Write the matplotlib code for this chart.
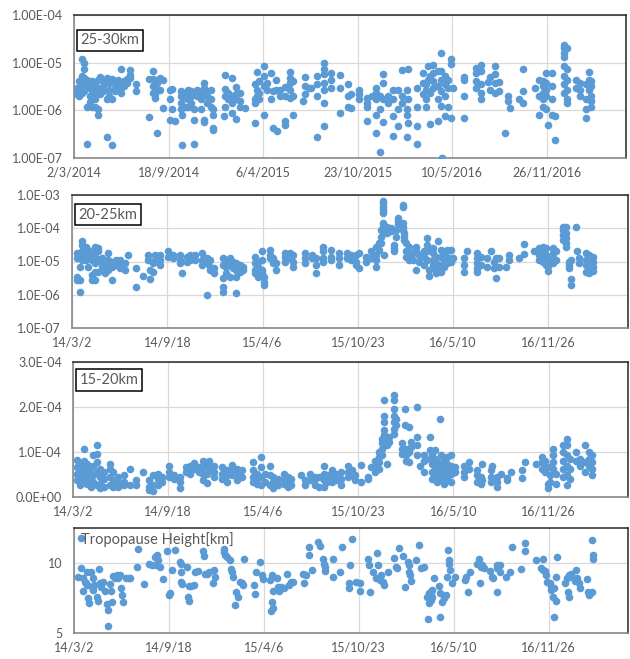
import datetime as dt
import numpy as np
import matplotlib
matplotlib.use("Agg")
import matplotlib.pyplot as plt
import matplotlib.dates as mdates
from matplotlib.ticker import FixedLocator, FuncFormatter, NullLocator

START = dt.date(2014, 3, 2)
X_SPAN_DAYS = 1167

# ---------------- 25-30 km (launch day offset, values) ----------------
days_2530 = [6, 10, 16, 22, 28, 33, 38, 44, 50, 55, 62, 70, 75, 80, 86, 93, 100, 106, 112, 118,
             132, 159, 166, 171, 176, 182, 189, 203, 208, 213, 227, 229, 236, 242, 248, 253, 260,
             268, 275, 282, 290, 294, 317, 319, 326, 334, 342, 350, 361, 382, 386, 392, 402, 408,
             416, 420, 427, 430, 436, 446, 456, 462, 484, 488, 496, 502, 514, 528, 544, 562, 579,
             586, 603, 620, 629, 639, 646, 653, 664, 674, 685, 694, 703, 706, 725, 738, 745, 748,
             753, 760, 769, 776, 779, 784, 791, 797, 801, 824, 850, 861, 875, 879, 891, 898, 912,
             917, 921, 941, 949, 974, 984, 991, 998, 1003, 1011, 1016, 1035, 1042, 1062, 1069,
             1083, 1088, 1093]
vals_2530 = [
    [3e-6, 2.2e-6], [4.2e-6, 2.7e-6, 2e-6], [1.2e-5, 5.2e-6, 4.4e-6, 3.5e-6, 2.3e-6],
    [1e-5, 7.2e-6, 4.8e-6, 3.2e-6, 2.5e-6], [4.4e-6, 3.5e-6, 1.2e-6, 2e-7],
    [3.8e-6, 3e-6, 2e-6, 1.5e-6], [4.2e-6, 2.5e-6, 1.7e-6, 1.2e-6], [3.2e-6, 2.2e-6, 1.7e-6, 1.2e-6],
    [4.4e-6, 2.5e-6, 1.05e-6, 7.8e-7], [5e-6, 3e-6, 2.2e-6], [4.4e-6, 3.2e-6, 2.5e-6],
    [4.8e-6, 4.2e-6, 1.7e-6, 2.7e-7], [3.8e-6, 2.7e-6, 2e-6], [4.6e-6, 1.7e-6, 1.9e-7],
    [3.8e-6, 3e-6, 2.5e-6], [4.4e-6, 3.5e-6, 2.7e-6], [7.2e-6, 3e-6, 2.3e-6], [4.2e-6, 3.2e-6],
    [4.6e-6, 3.8e-6], [7e-6, 5.6e-6, 4.8e-6],
    [3.5e-6, 2.5e-6], [4.6e-6, 7.3e-7], [6.7e-6, 4.6e-6, 3.2e-6, 2.3e-6], [4.4e-6, 2.2e-6, 1.8e-6],
    [3.8e-6, 2.7e-6, 3.3e-7], [4.8e-6, 2.7e-6], [4.4e-6, 1.1e-6], [2.7e-6, 1.7e-6, 6.3e-7],
    [2.8e-6, 1.05e-6], [6.1e-7], [2.5e-6, 2e-6, 1.4e-6, 1.05e-6], [8e-7, 1.9e-7],
    [2.3e-6, 1.8e-6, 1.2e-6], [2.7e-6, 1.7e-6, 1.15e-6], [2.5e-6, 2e-6, 1.4e-6],
    [2.3e-6, 1.05e-6, 6.3e-7, 2e-7], [2.7e-6, 2e-6],
    [2.3e-6, 1.7e-6, 1.05e-6], [3.8e-6, 3e-6, 6.3e-7, 5.8e-7], [2.5e-6, 2e-6, 1.4e-6],
    [2.7e-6, 1.7e-6, 1.2e-6], [1.05e-6, 8e-7, 4.2e-7, 3.8e-7], [7.5e-7],
    [5.4e-6, 2.8e-6, 2e-6, 1.2e-6], [2.3e-6, 1.7e-6], [4.8e-6, 2e-6, 1.4e-6, 8.8e-7],
    [3.1e-6, 2.2e-6, 1.7e-6, 6.6e-7], [2.3e-6, 1.6e-6, 1.2e-6], [1.1e-6],
    [3.5e-6, 1.7e-6, 1.4e-6, 5.5e-7], [6.3e-6, 2.7e-6, 2e-6], [4.2e-6, 2.3e-6, 1.7e-6],
    [8.5e-6, 5.2e-6, 3.2e-6, 8e-7], [3.8e-6, 2.7e-6],
    [6e-6, 1.7e-6], [2.5e-6, 4.2e-7], [4.4e-6, 2.7e-6], [3.6e-7], [2.7e-6, 2e-6],
    [3.1e-6, 2e-6, 6.1e-7, 5e-7], [6.3e-6, 4.8e-6, 3.8e-6, 2.7e-6, 1.8e-6], [4.2e-6, 2e-6, 8e-7],
    [1.6e-6], [5e-6, 3.2e-6, 2.2e-6], [3e-6], [3e-6], [5.2e-6, 3.5e-6, 2e-6, 2.8e-7],
    [1e-5, 7.2e-6, 5.7e-6, 3.8e-6, 2.7e-6, 1.4e-6, 4.7e-7], [6.2e-6, 4.4e-6, 3e-6],
    [5.4e-6, 3e-6, 9e-7], [3.5e-6, 2e-6, 1.2e-6],
    [2.2e-6, 1.1e-6], [2.7e-6, 2.2e-6, 1.7e-6], [1.8e-6, 1.4e-6, 1.2e-6, 5.9e-7], [2e-6],
    [3e-6, 2.3e-6, 1.7e-6, 8e-7, 3.3e-7], [2e-6, 1.05e-6, 1.35e-7], [5.7e-6, 3.8e-6, 1.7e-6, 5.6e-7],
    [2e-6, 1.4e-6], [2.7e-6, 1.7e-6, 7.5e-7, 2.9e-7], [2.7e-6, 1.05e-6, 4.8e-7], [7e-6, 2e-6, 1.4e-6],
    [2.7e-6, 1.05e-6, 8e-7, 2.8e-7], [7.2e-6, 1.7e-6, 5.4e-7], [3e-6, 1.2e-6, 4.6e-7, 2e-7],
    [6e-6, 3.8e-6, 2.2e-6], [3.5e-6, 2.7e-6, 1.7e-6, 1.2e-6], [8.5e-6, 4.4e-6],
    [5.2e-6, 2.3e-6, 5.2e-7], [9e-6, 6.2e-6, 4.2e-6, 3e-6], [6.7e-6, 3.2e-6, 1.7e-6, 5.9e-7],
    [1.6e-5, 6.7e-6, 4.4e-6, 2.5e-6, 1.25e-6], [1.02e-7, 1.02e-7], [5.2e-6, 3.5e-6, 2e-6, 7.5e-7],
    [4.4e-6, 3e-6, 1.2e-6], [1.2e-5, 9.6e-6, 6.8e-7], [3e-6], [5e-6, 4.4e-6, 2e-6, 7e-7],
    [7.8e-6, 6.2e-6, 4.2e-6, 3e-6], [8.8e-6, 6.7e-6, 3.5e-6, 2.3e-6, 1.7e-6], [3.9e-6],
    [5e-6, 2.7e-6], [8.5e-6, 5.7e-6, 3.8e-6, 2.3e-6], [3.9e-6, 2.5e-6], [3.3e-7],
    [2e-6, 1.6e-6], [1.1e-6], [1.7e-6], [7.4e-6, 2.5e-6, 1.4e-6], [3e-6], [4.4e-6, 2e-6, 8e-7],
    [4.2e-6, 3.2e-6, 2.3e-6, 1.7e-6, 1.2e-6], [6e-6, 3.8e-6, 2.7e-6, 2e-6, 1.05e-6], [5e-7],
    [6.2e-6, 3.2e-6, 1.7e-6, 8e-7], [7.5e-7, 2.4e-7],
    [2.4e-5, 2e-5, 1.6e-5, 1.3e-5, 8.5e-6, 5.2e-6, 3.5e-6, 2.3e-6],
    [2e-5, 7.2e-6, 4.4e-6, 2.7e-6, 1.7e-6, 1.4e-6], [4.4e-6, 3e-6], [3.8e-6, 2.7e-6, 2e-6],
    [3.5e-6, 1.7e-6, 1.05e-6, 7e-7], [6.3e-6, 4.4e-6, 2.7e-6], [4.2e-6, 3.2e-6, 2e-6, 1.6e-6, 1.2e-6],
]

# ---------------- 20-25 km ----------------
days_2025 = [10, 17, 22, 29, 34, 41, 48, 55, 62, 69, 76, 83, 92, 101, 111, 118, 134, 148, 159, 164,
             171, 174, 185, 202, 213, 227, 230, 241, 248, 258, 272, 283, 290, 297, 316, 324, 331,
             338, 345, 352, 359, 384, 391, 398, 402, 415, 422, 429, 447, 457, 464, 489, 503, 513,
             526, 543, 561, 578, 585, 596, 603, 618, 627, 638, 645, 648, 652, 655, 662, 669, 676,
             681, 685, 694, 697, 701, 708, 715, 723, 729, 739, 746, 750, 757, 764, 769, 774, 781,
             788, 795, 800, 823, 830, 851, 858, 872, 879, 886, 890, 897, 911, 918, 939, 949, 970,
             981, 988, 995, 1000, 1009, 1015, 1031, 1037, 1044, 1047, 1057, 1060, 1065, 1078, 1086,
             1093]
vals_2025 = [
    [1.8e-5, 1.3e-5, 3.5e-6, 2.8e-6], [7e-6, 2.8e-6, 1.2e-6], [4e-5, 3.2e-5, 2e-5, 1.4e-5, 1.1e-5],
    [2.8e-5, 2e-5, 1.6e-5, 1.1e-5], [2.2e-5, 1.4e-5, 7e-6], [1.8e-5, 1.1e-5, 4e-6, 2.8e-6],
    [2.8e-5, 2.2e-5, 1.4e-5, 8.9e-6, 5e-6, 2.8e-6], [2.5e-5, 2e-5, 1.1e-5, 5e-6],
    [1.3e-5, 8.9e-6, 7e-6], [1e-5, 6.3e-6, 4.5e-6], [1.8e-5, 1.1e-5, 8e-6, 5.6e-6],
    [1e-5, 7e-6, 2.8e-6], [1.1e-5, 8e-6], [1.1e-5, 8.9e-6, 6.3e-6], [8.9e-6, 5.6e-6], [1.6e-5],
    [6.6e-6, 1.7e-6], [3.7e-6], [1.6e-5, 1.1e-5], [5.6e-6, 2.9e-6],
    [8.9e-6, 5e-6], [1.6e-5, 1.1e-5], [1.6e-5, 1.1e-5, 8e-6], [2e-5, 1.4e-5], [1.6e-5, 1.3e-5],
    [1.6e-5, 1.1e-5, 8.9e-6], [4.5e-6], [1.4e-5, 1e-5], [1.6e-5, 1.1e-5], [1.6e-5, 1.1e-5],
    [1.8e-5, 1.1e-5, 8e-6], [1.3e-5, 8.9e-6, 1e-6], [1.1e-5, 7e-6, 5.6e-6], [6.3e-6, 4.5e-6],
    [1.3e-5, 8e-6, 3.2e-6, 1.7e-6, 1.2e-6], [1.1e-5, 7e-6, 4.5e-6], [1.3e-5, 8.9e-6, 3.5e-6],
    [1e-5, 6.3e-6], [8.9e-6, 5.6e-6, 3.5e-6, 1.1e-6], [8e-6, 5e-6], [7e-6, 5.6e-6],
    [1.4e-5, 8.9e-6, 5.6e-6, 4.5e-6], [1e-5, 7e-6, 3.5e-6], [2e-5, 1.1e-5, 5.6e-6, 4.5e-6],
    [3.5e-6, 2.5e-6, 1.9e-6], [2.2e-5, 1.6e-5, 1.3e-5], [1.3e-5, 8.9e-6], [8.9e-6, 5.6e-6],
    [1.8e-5, 1.4e-5, 1e-5], [1.8e-5, 1.3e-5], [1.6e-5, 1e-5, 7e-6], [1.8e-5, 1.3e-5, 8.9e-6],
    [1.6e-5, 1.3e-5], [1.3e-5, 8e-6, 4.5e-6],
    [2.8e-5, 2e-5, 1.3e-5, 1e-5], [2.2e-5, 1.4e-5, 1.1e-5], [1.8e-5, 1.3e-5, 8e-6],
    [1.8e-5, 1.3e-5], [1.6e-5, 1.1e-5], [1.6e-5, 1e-5, 8e-6], [1.8e-5, 6.3e-6], [1.4e-5, 1e-5],
    [2e-5, 1.3e-5], [2.8e-5, 1.6e-5, 1.1e-5, 6.7e-6], [3.5e-5, 2.2e-5], [8.9e-5, 5.6e-5, 3.5e-5],
    [6.8e-4, 5.6e-4, 4.5e-4, 3.5e-4, 2.8e-4, 1.4e-4, 1.1e-4], [8.9e-5, 7e-5, 1.6e-5],
    [1.1e-4, 8.9e-5, 7e-5], [1e-4, 8e-5], [3.2e-5, 2.5e-5, 2e-5],
    [8.9e-5, 5.6e-5], [2e-4, 1.6e-4, 1.3e-4], [5e-4, 4.5e-4, 1.4e-4, 1.1e-4, 8.9e-5],
    [7e-5, 5.6e-5, 4.5e-5], [3.5e-5, 2e-5, 1.4e-5], [2.8e-5, 1.6e-5, 1.1e-5], [1.8e-5, 1.1e-5],
    [2.8e-5, 2e-5, 5.6e-6], [1.6e-5, 1e-5], [2e-5, 1.4e-5, 8e-6], [5e-5, 3.2e-5, 2e-5, 1.1e-5],
    [5.6e-6, 3.7e-6], [2.5e-5, 1.8e-5, 1.1e-5, 8e-6], [1.4e-5, 8.9e-6, 5.6e-6, 4.5e-6], [4e-5],
    [2.2e-5, 1.4e-5, 8e-6, 5e-6], [1.8e-5, 1.1e-5, 7e-6],
    [2.2e-5, 1.4e-5, 8.9e-6], [2.2e-5, 1.3e-5, 1e-5], [1.3e-5], [1.3e-5, 8e-6, 5e-6], [2.1e-5],
    [1.8e-5, 1.3e-5, 8.9e-6, 6.3e-6, 5e-6], [1.4e-5, 8e-6], [1.3e-5, 6.7e-6], [2.1e-5],
    [1e-5, 6.3e-6], [1.3e-5, 3.2e-6], [1.3e-5, 7e-6], [6.7e-6], [1.6e-5, 1.1e-5], [1.3e-5],
    [3.4e-5, 1.7e-5], [2e-5],
    [2.5e-5, 1.6e-5, 1.1e-5], [2.8e-5, 2e-5, 1.4e-5, 1e-5], [2.5e-5, 1.6e-5, 1.1e-5, 8e-6],
    [1.1e-5, 7.4e-6, 5.3e-6], [2.5e-5, 1.8e-5, 1.3e-5, 8.9e-6], [2e-5, 1.1e-5],
    [1.1e-4, 8.9e-5, 6.3e-5, 4.5e-5], [1.1e-4, 7e-5, 5e-5, 3.5e-5, 2.8e-5], [1e-5, 8e-6, 6.3e-6],
    [1.1e-5, 3e-6, 1.9e-6], [1.1e-4], [2e-5], [1.3e-5, 8.9e-6],
    [1.8e-5, 1.1e-5, 8e-6, 5e-6], [1.6e-5, 1.1e-5, 8.9e-6, 6.3e-6, 4.5e-6],
    [1.4e-5, 1e-5, 7e-6, 5.3e-6],
]

# ---------------- 15-20 km ----------------
days_1520 = [9, 15, 23, 30, 37, 42, 51, 56, 65, 77, 85, 94, 108, 119, 133, 148, 160, 169, 178, 188,
             202, 213, 226, 237, 247, 254, 265, 273, 282, 285, 296, 313, 324, 334, 344, 355, 379,
             386, 395, 403, 414, 421, 431, 444, 452, 459, 480, 487, 498, 508, 517, 528, 535, 545,
             552, 563, 579, 587, 594, 605, 621, 626, 636, 643, 650, 654, 661, 664, 675, 680, 692,
             698, 701, 706, 710, 724, 729, 738, 750, 755, 761, 766, 771, 773, 780, 787, 794, 801,
             804, 822, 832, 850, 857, 860, 878, 881, 892, 899, 913, 922, 944, 951, 973, 986, 993,
             999, 1003, 1009, 1015, 1031, 1038, 1045, 1057, 1066, 1077, 1084, 1091]
vals_1520 = [
    [8.3e-5, 6.7e-5, 5.2e-5, 3.7e-5], [7e-5, 5.6e-5, 4.1e-5, 2.6e-5],
    [1.06e-4, 8.1e-5, 6.3e-5, 4.8e-5, 3.3e-5], [7.4e-5, 5.9e-5, 4.4e-5, 3e-5],
    [6.7e-5, 5.2e-5, 3.7e-5, 2.2e-5], [9.3e-5, 7e-5, 4.8e-5, 3.3e-5],
    [1.16e-4, 9.6e-5, 7.8e-5, 5.6e-5, 2.6e-5], [6.3e-5, 4.4e-5, 3e-5, 1.9e-5],
    [5.6e-5, 4.1e-5, 2.2e-5], [7.4e-5, 6.3e-5, 4.4e-5, 2.6e-5], [5.6e-5, 3.7e-5, 2.2e-5],
    [4.4e-5, 3.3e-5, 2.2e-5], [4.8e-5, 3.3e-5, 2.6e-5], [6.3e-5, 2.6e-5], [3.7e-5, 2.6e-5],
    [5.6e-5], [3.7e-5, 2.2e-5, 1.5e-5], [4.8e-5, 2.6e-5, 1.3e-5], [5.2e-5, 4.1e-5, 2.6e-5],
    [4.4e-5, 3.3e-5],
    [7e-5, 5.6e-5, 4.4e-5], [4.8e-5, 4.1e-5], [4.4e-5, 3.3e-5, 1.9e-5], [6.7e-5, 5.6e-5],
    [7e-5, 5.9e-5, 5.2e-5], [7.6e-5, 6.3e-5], [6.7e-5, 5.6e-5], [8.1e-5, 6.7e-5, 5.2e-5, 3.7e-5],
    [7e-5, 5.2e-5, 3.2e-5], [7.9e-5, 6.3e-5], [7e-5, 5.6e-5, 4.4e-5], [6.7e-5, 5.2e-5, 4.1e-5],
    [5.9e-5, 4.8e-5, 3.3e-5], [7.2e-5, 5.9e-5, 4.8e-5], [6.3e-5, 5.2e-5, 3.7e-5], [5.9e-5, 4.4e-5],
    [7.8e-5, 5.9e-5, 4.4e-5, 3.3e-5],
    [5.2e-5, 4.1e-5, 3e-5], [8.9e-5, 6.7e-5, 4.4e-5, 2.6e-5], [5.2e-5, 3.3e-5],
    [7e-5, 4.8e-5, 2.6e-5], [4.4e-5, 3.3e-5, 1.9e-5], [4.1e-5, 2.6e-5], [5.2e-5, 4.1e-5, 3e-5],
    [4.4e-5, 3.3e-5, 2.2e-5], [4.1e-5, 2.6e-5], [4.8e-5], [3.7e-5, 2.6e-5], [5.2e-5, 3.7e-5],
    [4.4e-5, 4.1e-5, 2.6e-5], [4.4e-5, 2.2e-5], [7e-5, 5.2e-5, 3.7e-5, 2.2e-5], [4.8e-5, 3.3e-5],
    [5.9e-5, 4.4e-5, 3.3e-5],
    [5.2e-5, 3.7e-5], [5.6e-5, 4.1e-5, 2.7e-5], [7e-5, 5.6e-5, 4.4e-5], [5.9e-5, 4.8e-5],
    [4.8e-5, 3.7e-5], [7.2e-5, 3.3e-5], [4.4e-5, 3.9e-5], [6.7e-5], [8.1e-5, 6.7e-5, 5.6e-5],
    [1e-4, 8.9e-5, 7.8e-5, 6.3e-5], [1.3e-4, 1.19e-4, 1.07e-4, 9.3e-5],
    [2.15e-4, 1.81e-4, 1.67e-4, 1.48e-4, 1.37e-4], [1.26e-4, 1.15e-4, 7.4e-5], [1.33e-4, 1.22e-4],
    [2.26e-4, 2.15e-4, 1.96e-4, 1.81e-4, 1.67e-4, 1.52e-4, 1.41e-4], [1.74e-4, 1.59e-4],
    [1.19e-4, 1.07e-4, 9.6e-5],
    [1.96e-4, 1.59e-4], [1.07e-4, 9.3e-5, 8.1e-5], [1.56e-4, 1e-4, 7.8e-5], [1.22e-4, 1.11e-4],
    [2e-4, 1.33e-4, 1.15e-4, 9.3e-5], [7e-5], [9.3e-5, 8.1e-5, 5.6e-5], [1.33e-4, 1.04e-4, 8.5e-5],
    [9.3e-5, 7.4e-5, 5.6e-5, 4.1e-5], [1.04e-4, 8.5e-5, 6.7e-5], [8.1e-5, 6.3e-5, 4.8e-5, 3.3e-5],
    [1.73e-4], [9.3e-5, 7.4e-5, 5.6e-5, 4.1e-5], [8.1e-5, 6.7e-5, 4.8e-5, 3e-5],
    [8.9e-5, 7.4e-5, 5.9e-5, 4.1e-5], [9.3e-5, 7e-5, 5.2e-5, 3.3e-5], [5.6e-5], [6.7e-5, 5.6e-5],
    [7e-5, 5.6e-5, 4.4e-5], [7.8e-5, 6.3e-5], [5.9e-5, 4.8e-5, 3.3e-5], [4.4e-5, 3e-5],
    [7.4e-5, 3.7e-5], [5.9e-5, 4.4e-5, 3.3e-5], [7e-5], [4.4e-5, 3.3e-5, 2.2e-5], [5.2e-5],
    [4.2e-5, 3.7e-5], [5.6e-5], [5.9e-5, 4.2e-5], [7.8e-5], [7.4e-5], [8.9e-5, 7.8e-5, 6.3e-5],
    [8.1e-5, 7e-5, 5.6e-5], [6.7e-5, 3e-5, 1.9e-5], [4.8e-5, 3.3e-5],
    [1.07e-4, 9.3e-5, 7.8e-5, 6.3e-5], [5.2e-5, 3e-5], [1.15e-4, 1e-4, 8.1e-5, 6.3e-5, 4.4e-5],
    [1.28e-4, 1.15e-4, 9.3e-5, 7e-5, 4.8e-5, 2.6e-5], [8.5e-5, 6.3e-5, 4.1e-5], [9.9e-5, 8.1e-5],
    [8.5e-5, 7e-5], [1.16e-4, 7.8e-5, 5.6e-5], [1e-4, 8.5e-5, 7e-5], [9.3e-5, 7.8e-5, 6.3e-5, 4.8e-5],
]

# ---------------- Tropopause height (km) ----------------
days_trop = [
    14, 9, 14, 18, 19, 23, 25, 28, 28, 30,
    32, 35, 37, 39, 40, 43, 48, 50, 52, 54,
    57, 61, 66, 69, 71, 71, 75, 77, 79, 83,
    86, 90, 93, 96, 99, 101, 103, 109, 116, 119,
    132, 134, 147, 157, 164, 170, 174, 172, 176, 181,
    187, 195, 200, 202, 207, 212, 223, 225, 225, 226,
    228, 239, 240, 243, 243, 247, 252, 254, 261, 271,
    273, 275, 280, 285, 292, 295, 296, 316, 317, 319,
    323, 328, 330, 332, 335, 340, 342, 345, 349, 354,
    357, 359, 380, 381, 383, 392, 395, 399, 412, 414,
    419, 418, 418, 420, 428, 430, 432, 437, 443, 448,
    452, 457, 461, 483, 485, 488,
    494, 494, 501, 515, 519, 525, 526, 529, 529, 545,
    546, 560, 564, 581, 586, 580, 580, 595, 602, 603,
    620, 622, 624, 630, 638, 640, 637, 644, 647, 651,
    654, 661, 675, 678, 680, 685, 694, 698, 703, 706,
    705, 708, 710, 720, 726, 731, 738, 746, 744, 748,
    751, 755, 748, 751, 755, 758, 769, 772, 771, 776,
    779, 783, 786, 788, 790, 790, 793, 797, 803, 823,
    826, 831, 835, 849, 853, 858, 856, 859, 863, 876,
    880, 883, 890, 892, 890, 897, 897, 911, 918, 923,
    942, 949, 950, 974, 988, 984, 988, 992, 995, 997,
    1002, 1004, 1005, 1011, 1009, 1015, 1012, 1017, 1015, 1034,
    1038, 1043, 1040, 1043, 1047, 1050, 1055, 1057, 1059, 1064,
    1066, 1080, 1083, 1085, 1088, 1092, 1092, 1094, 1094,
]
vals_trop = [
    11.74, 8.99, 9.58, 8.92, 7.98, 8.64, 8.52, 9.34, 8.40, 7.46,
    7.11, 9.34, 8.28, 8.05, 8.92, 8.40, 7.58, 7.28, 9.53, 8.52,
    8.28, 8.64, 7.98, 7.04, 6.64, 5.47, 8.45, 7.98, 7.18, 9.06,
    8.87, 9.15, 8.92, 9.11, 8.17, 7.70, 7.18, 8.87, 8.87, 8.92,
    9.69, 10.99, 8.45, 9.93, 9.86, 10.40, 10.52, 9.81, 10.16, 9.69,
    8.80, 10.80, 7.70, 7.82, 9.46, 10.87, 10.05, 9.93, 9.34, 8.64,
    8.47, 9.69, 7.58, 7.28, 8.36, 8.36, 8.40, 9.34, 9.39, 10.80,
    10.47, 9.22, 9.22, 9.34, 8.52, 9.46, 8.99, 10.99, 10.75, 10.52,
    10.40, 10.16, 9.53, 9.30, 8.99, 7.00, 7.93, 7.58, 8.64, 8.52,
    8.40, 10.23, 8.40, 7.75, 9.34, 10.05, 9.11, 8.83, 8.75, 6.53,
    6.76, 7.23, 9.11, 7.98, 8.92, 8.28, 7.98, 8.28, 8.21, 9.22,
    8.40, 8.64, 8.59, 9.22, 8.52, 9.11,
    11.1, 10.52, 9.46, 11.46, 11.17, 10.28, 9.93, 9.69, 9.39, 10.28,
    8.99, 9.30, 11.1, 9.81, 11.69, 8.52, 8.17, 8.64, 8.52, 7.98,
    10.28, 9.81, 7.89, 9.34, 10.70, 9.81, 8.92, 8.75, 9.11, 8.64,
    8.40, 9.30, 10.33, 9.69, 9.58, 11.03, 10.47, 8.28, 10.05, 9.81,
    9.34, 9.11, 8.69, 10.16, 11.27, 9.58, 9.69, 6.01, 7.58, 7.82,
    7.93, 8.05, 7.11, 7.35, 7.58, 8.87, 8.36, 7.82, 6.17, 7.23,
    7.46, 7.70, 8.99, 10.87, 10.16, 9.93, 9.46, 8.52, 8.99, 8.75,
    8.99, 7.89, 9.34, 9.93, 10.28, 9.69, 8.57, 9.81, 9.58, 9.39,
    8.99, 8.87, 9.81, 9.58, 7.89, 9.81, 9.30, 8.99, 9.34, 11.1,
    9.53, 11.41, 10.80, 10.16, 10.23, 9.58, 9.46, 9.39, 9.15, 8.64,
    8.52, 8.28, 8.05, 8.17, 7.58, 7.28, 6.17, 10.40, 8.99, 8.52,
    8.87, 9.11, 7.93, 7.58, 9.22, 8.99, 8.69, 9.46, 8.87, 8.52,
    8.17, 8.83, 7.89, 7.70, 7.82, 7.93, 11.57, 10.52, 10.23,
]

TICK_DAYS = [0, 200, 400, 600, 800, 1000]

BLUE = "#5B9BD5"
GRID = "#D9D9D9"
TXT = "#595959"
FONT = ["Lato", "DejaVu Sans"]
plt.rcParams["font.family"] = FONT


def to_num(d):
    return mdates.date2num(START + dt.timedelta(days=int(d)))


def flatten(days, groups):
    xs, ys = [], []
    for d, g in zip(days, groups):
        for v in g:
            xs.append(to_num(d))
            ys.append(v)
    return xs, ys


fig = plt.figure(figsize=(6.30, 6.59), dpi=100)
W, H = 630.0, 659.0


def make_ax(left, right, top, bottom):
    return fig.add_axes([left / W, 1 - bottom / H, (right - left) / W, (bottom - top) / H])


ax1 = make_ax(74, 626, 15, 158)
ax2 = make_ax(72, 628, 195, 328)
ax3 = make_ax(73, 628, 362, 497)
ax4 = make_ax(74, 628, 528, 633)

x0 = to_num(0)
x1 = to_num(X_SPAN_DAYS)
tick_x = [to_num(d) for d in TICK_DAYS]


def fmt_long(x, pos):
    d = mdates.num2date(x)
    return f"{d.day}/{d.month}/{d.year}"


def fmt_short(x, pos):
    d = mdates.num2date(x)
    return f"{d.year % 100}/{d.month}/{d.day}"


def style(ax, xfmt):
    ax.set_xlim(x0, x1)
    ax.xaxis.set_major_locator(FixedLocator(tick_x))
    ax.xaxis.set_minor_locator(NullLocator())
    ax.xaxis.set_major_formatter(FuncFormatter(xfmt))
    ax.grid(True, color=GRID, lw=0.9, zorder=0)
    ax.set_axisbelow(True)
    ax.tick_params(length=0, labelsize=9, colors=TXT, pad=8)
    ax.tick_params(axis="x", pad=6)
    for s in ("top", "right"):
        ax.spines[s].set_color("#262626")
        ax.spines[s].set_linewidth(1.1)
    for s in ("left", "bottom"):
        ax.spines[s].set_color("#7F7F7F")
        ax.spines[s].set_linewidth(1.1)


def box_label(ax, text, y, boxed=True):
    kw = dict(transform=ax.transAxes, fontsize=10.5, color=TXT, va="center", ha="left",
              zorder=5)
    if boxed:
        kw["bbox"] = dict(boxstyle="square,pad=0.25", fc="white", ec="black", lw=1.1)
    ax.text(0.012, y, text, **kw)


MS = 30

# panel 1
x, y = flatten(days_2530, vals_2530)
ax1.scatter(x, y, s=MS, color=BLUE, lw=0, zorder=3)
ax1.set_yscale("log")
ax1.set_ylim(1e-7, 1e-4)
ax1.yaxis.set_major_locator(FixedLocator([1e-7, 1e-6, 1e-5, 1e-4]))
ax1.yaxis.set_minor_locator(NullLocator())
ax1.yaxis.set_major_formatter(FuncFormatter(lambda v, p: f"{v:.2E}"))
style(ax1, fmt_long)
box_label(ax1, "25-30km", 0.822)

# panel 2
x, y = flatten(days_2025, vals_2025)
ax2.scatter(x, y, s=MS, color=BLUE, lw=0, zorder=3)
ax2.set_yscale("log")
ax2.set_ylim(1e-7, 1e-3)
ax2.yaxis.set_major_locator(FixedLocator([1e-7, 1e-6, 1e-5, 1e-4, 1e-3]))
ax2.yaxis.set_minor_locator(NullLocator())
ax2.yaxis.set_major_formatter(FuncFormatter(lambda v, p: f"{v:.1E}"))
style(ax2, fmt_short)
box_label(ax2, "20-25km", 0.853)

# panel 3
x, y = flatten(days_1520, vals_1520)
ax3.scatter(x, y, s=MS, color=BLUE, lw=0, zorder=3)
ax3.set_ylim(0, 3e-4)
ax3.yaxis.set_major_locator(FixedLocator([0, 1e-4, 2e-4, 3e-4]))
ax3.yaxis.set_major_formatter(FuncFormatter(lambda v, p: f"{v:.1E}"))
style(ax3, fmt_short)
box_label(ax3, "15-20km", 0.867)

# panel 4
ax4.scatter([to_num(d) for d in days_trop], vals_trop, s=MS, color=BLUE, lw=0, zorder=3)
ax4.set_ylim(5, 12.45)
ax4.yaxis.set_major_locator(FixedLocator([5, 10]))
ax4.yaxis.set_major_formatter(FuncFormatter(lambda v, p: f"{v:.0f}"))
style(ax4, fmt_short)
box_label(ax4, "Tropopause Height[km]", 0.886, boxed=False)

fig.savefig("out.png", dpi=100)
